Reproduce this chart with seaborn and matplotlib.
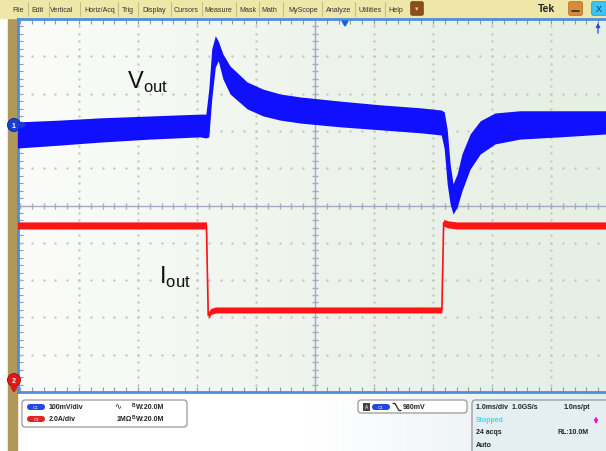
import numpy as np
import matplotlib.pyplot as plt
import seaborn as sns
from matplotlib.colors import LinearSegmentedColormap
from matplotlib.patches import Rectangle, FancyBboxPatch, Circle, Polygon

W, H = 606, 452

# ch1 = Vout, 100 mV/div; envelope of the noisy trace in mV about the ch1 marker
t_v = [-5.05, -4.32, -3.64, -2.80, -1.95, -1.85, -1.80, -1.75, -1.69, -1.64, -1.56,
       -1.44, -1.15, -0.88, -0.59, -0.25, 0.42, 1.10, 1.78, 2.14, 2.19, 2.24, 2.29,
       2.34, 2.41, 2.49, 2.63, 2.80, 3.05, 3.47, 4.15, 4.95]
vout_hi = [8, 13, 19, 24, 29, 29, 96, 204, 239, 225, 190, 158, 115, 96, 83, 75,
           64, 54, 46, 40, 35, -11, -105, -158, -131, -78, -24, 11, 32, 38, 38, 38]
vout_lo = [-62, -54, -46, -38, -32, -35, -32, 70, 155, 172, 123, 83, 43, 24, 13, 5,
           -5, -13, -21, -27, -64, -158, -212, -239, -220, -177, -118, -78, -51, -38, -32, -24]

# ch2 = Iout, 2 A/div; in A about the ch2 marker
t_i = [-5.05, -1.84, -1.81, -1.76, -1.68, 2.15, 2.18, 2.25, 2.40, 4.95]
iout_hi = [8.58, 8.58, 3.75, 3.95, 4.02, 4.02, 8.72, 8.64, 8.58, 8.58]
iout_lo = [8.20, 8.20, 3.40, 3.62, 3.70, 3.70, 8.36, 8.26, 8.20, 8.20]

menu_items = ["File", "Edit", "Vertical", "Horiz/Acq", "Trig", "Display", "Cursors",
              "Measure", "Mask", "Math", "MyScope", "Analyze", "Utilities", "Help"]
ch1_scale, ch2_scale = "100mV/div", "2.0A/div"
bw_text = "20.0M"
trig_level = "980mV"
horiz_info = ["1.0ms/div  1.0GS/s", "1.0ns/pt", "Stopped", "24 acqs", "RL:10.0M", "Auto"]

# screen settings
v_per_div, i_per_div = 100, 2.0
ch1_pos, ch2_pos = 2.16, -4.73      # marker positions in divisions
menu_x = [18, 37, 62, 100, 128, 154, 186, 218, 248, 269, 303, 339, 370, 396]
menu_sep = [28, 49, 80, 118, 138, 171, 202, 236, 259, 283, 322, 355, 385]

sns.set_theme(style="white")
plt.rcParams['font.family'] = ['Liberation Sans', 'DejaVu Sans']
plt.rcParams['mathtext.fontset'] = 'custom'
plt.rcParams['mathtext.rm'] = 'Liberation Sans'

fig = plt.figure(figsize=(W / 100, H / 100), dpi=100)
fig.patch.set_facecolor('white')

# ---- background layer in pixel coordinates
bg = fig.add_axes([0, 0, 1, 1], zorder=0)
bg.set_xlim(0, W)
bg.set_ylim(H, 0)
bg.axis('off')

grad = np.linspace(0, 1, 256).reshape(1, -1)
panel_cmap = LinearSegmentedColormap.from_list('panel', ['#ffffff', '#ffffff', '#e3ecf2'])
bg.imshow(grad, extent=[17, W, H, 394], cmap=panel_cmap, aspect='auto', zorder=0)
bg.add_patch(Rectangle((8, 18), 9, H - 18, color='#b0985a', zorder=1))
bg.add_patch(Rectangle((0, 0), W, 19, color='#efe7a7', zorder=1))
for xs in menu_sep:
    bg.plot([xs, xs], [3, 17], color='#c8bf86', lw=0.8, zorder=2)
for lab, xm in zip(menu_items, menu_x):
    bg.text(xm, 10, lab, ha='center', va='center', fontsize=5.1, color='#333333', zorder=3)
bg.add_patch(FancyBboxPatch((411, 3), 12, 13, boxstyle='round,pad=0.3,rounding_size=1.5',
                            fc='#8a4f1c', ec='#6a3a12', lw=0.5, zorder=3))
bg.text(417, 9.5, '\u25BE', ha='center', va='center', fontsize=5, color='#f0d080', zorder=4)
bg.text(546, 9.5, 'Tek', ha='center', va='center', fontsize=7.5, weight='bold', color='#222222', zorder=3)
bg.add_patch(FancyBboxPatch((569, 3), 13, 13, boxstyle='round,pad=0.3,rounding_size=1.5',
                            fc='#d98a3a', ec='#a8601e', lw=0.5, zorder=3))
bg.plot([572, 579], [12, 12], color='#3a2a10', lw=1.2, zorder=4)
bg.add_patch(FancyBboxPatch((592, 3), 14, 13, boxstyle='round,pad=0.3,rounding_size=1.5',
                            fc='#39c6f2', ec='#1a90c0', lw=0.5, zorder=3))
bg.text(599, 10, 'X', ha='center', va='center', fontsize=6.5, color='#10306a', zorder=4)

# bottom status boxes
bg.add_patch(FancyBboxPatch((22, 401), 165, 27, boxstyle='round,pad=0,rounding_size=3',
                            fc='white', ec='#8c8c8c', lw=0.8, zorder=2))
bg.add_patch(FancyBboxPatch((358, 401), 109, 13, boxstyle='round,pad=0,rounding_size=3',
                            fc='white', ec='#8c8c8c', lw=0.8, zorder=2))
bg.add_patch(FancyBboxPatch((472, 401), 150, 60, boxstyle='round,pad=0,rounding_size=3',
                            fc='#e4eef3', ec='#8c8c8c', lw=0.8, zorder=2))

def pill(x, y, color, label):
    bg.add_patch(FancyBboxPatch((x, y - 3), 18, 6, boxstyle='round,pad=0,rounding_size=3',
                                fc=color, ec='none', zorder=3))
    bg.text(x + 9, y, label, ha='center', va='center', fontsize=3.2, color='white', zorder=4)

txt = dict(fontsize=5, weight='bold', color='#222222', va='center', zorder=4)
pill(27, 408, '#2446e6', 'C1')
pill(27, 420, '#e42424', 'C2')
bg.text(49, 408, ch1_scale, **txt)
bg.text(49, 420, ch2_scale, **txt)
bg.text(118, 408, '\u223F', ha='center', va='center', fontsize=6, color='#222222', zorder=4)
bg.text(117, 420, '1M\u03A9', **txt)
for yy in (408, 420):
    bg.text(132, yy - 2, 'B', fontsize=3.5, weight='bold', color='#222222', va='center', zorder=4)
    bg.text(136, yy, 'W:' + bw_text, **txt)
bg.add_patch(Rectangle((363, 404), 7, 7.5, fc='#444444', ec='none', zorder=3))
bg.text(366.5, 408, 'A', ha='center', va='center', fontsize=3.5, color='white', zorder=4)
pill(372, 408, '#2446e6', 'C1')
bg.plot([393, 395, 399, 401], [404.5, 404.5, 411.5, 411.5], color='#222222', lw=0.9, zorder=4)
bg.text(403, 408, trig_level, **txt)
bg.text(476, 408, horiz_info[0], **txt)
bg.text(564, 408, horiz_info[1], **txt)
bg.text(476, 421, horiz_info[2], fontsize=5, weight='bold', color='#33e0f0', va='center', zorder=4)
bg.text(476, 433, horiz_info[3], **txt)
bg.text(558, 433, horiz_info[4], **txt)
bg.text(476, 446, horiz_info[5], **txt)
bg.annotate('', xy=(596, 428), xytext=(596, 416),
            arrowprops=dict(arrowstyle='-|>', color='#ff10c8', lw=1.2, mutation_scale=5), zorder=4)

# ---- graticule axes, in divisions (time axis in ms)
ax = fig.add_axes([18 / W, 1 - 393 / H, 1 - 18 / W, 373 / H], zorder=1)
xlim, ylim = (-5.034, 4.932), (-5.0, 5.0)
scr_cmap = LinearSegmentedColormap.from_list('scr', ['#fbfcf9', '#eef4ec', '#e6efe4'])
ax.imshow(grad, extent=[*xlim, *ylim], cmap=scr_cmap, aspect='auto', zorder=0)
ax.set_xlim(*xlim)
ax.set_ylim(*ylim)

minor_x = np.arange(-5, 5.0, 0.2)
minor_y = np.arange(-5, 5.01, 0.2)
for gx in range(-4, 5):
    if gx != 0:
        ax.plot(np.full_like(minor_y, gx), minor_y, ls='none', marker='s', ms=0.7,
                color='#c4c8c4', zorder=1)
for gy in range(-4, 5):
    if gy != 0:
        ax.plot(minor_x, np.full_like(minor_x, gy), ls='none', marker='s', ms=0.7,
                color='#c4c8c4', zorder=1)
ax.axvline(0, color='#a3abc4', lw=1.0, zorder=1)
ax.axhline(0, color='#a3abc4', lw=1.0, zorder=1)
ax.plot(np.zeros_like(minor_y), minor_y, ls='none', marker='_', ms=4, mew=1, color='#a3abc4', zorder=1)
ax.plot(minor_x, np.zeros_like(minor_x), ls='none', marker='|', ms=4, mew=1, color='#a3abc4', zorder=1)

ax.set_xticks(minor_x)
ax.set_yticks(minor_y)
ax.tick_params(axis='both', direction='in', length=3.5, width=0.8, color='#8a98bc',
               top=True, bottom=True, left=True, right=False,
               labelbottom=False, labelleft=False)
for side in ('left', 'top', 'bottom'):
    ax.spines[side].set_color('#4d8fdc')
    ax.spines[side].set_linewidth(2)
ax.spines['right'].set_visible(False)

# ---- traces, each on its own vertical scale
axi = ax.twinx()
axi.set_ylim((ylim[0] - ch2_pos) * i_per_div, (ylim[1] - ch2_pos) * i_per_div)
axi.axis('off')
axi.set_zorder(2)
axi.fill_between(t_i, iout_lo, iout_hi, color='#ff1414', lw=0)
i_mid = (np.array(iout_hi) + np.array(iout_lo)) / 2
sns.lineplot(x=t_i, y=i_mid, ax=axi, color='#ff1414', lw=1.2, estimator=None, sort=False)

axv = ax.twinx()
axv.set_ylim((ylim[0] - ch1_pos) * v_per_div, (ylim[1] - ch1_pos) * v_per_div)
axv.axis('off')
axv.set_zorder(3)
axv.fill_between(t_v, vout_lo, vout_hi, color='#1010ff', lw=0)
v_mid = (np.array(vout_hi) + np.array(vout_lo)) / 2
sns.lineplot(x=t_v, y=v_mid, ax=axv, color='#1010ff', lw=1.0, estimator=None, sort=False)

# ---- foreground markers and labels in pixel coordinates
fg = fig.add_axes([0, 0, 1, 1], zorder=4)
fg.set_xlim(0, W)
fg.set_ylim(H, 0)
fg.axis('off')
fg.patch.set_visible(False)
fg.add_patch(Polygon([[342, 22], [348, 22], [345, 27]], color='#1a5fe0'))
fg.annotate('', xy=(598, 21), xytext=(598, 37),
            arrowprops=dict(arrowstyle='-|>', color='#2a4ae8', lw=0.9, mutation_scale=6))
fg.add_patch(Circle((14, 126), 6.5, fc='#1a3fd8', ec='#0a2090', lw=0.6))
fg.text(14, 126.5, '1', ha='center', va='center', fontsize=5, weight='bold', color='white')
fg.add_patch(Polygon([[21, 123], [21, 129], [25, 126]], color='#1a3fd8'))
fg.add_patch(Circle((14, 381), 6.5, fc='#e41818', ec='#a00a0a', lw=0.6))
fg.text(14, 381.5, '2', ha='center', va='center', fontsize=5, weight='bold', color='white')
fg.add_patch(Polygon([[11, 388], [17, 388], [14, 393]], color='#e41818'))

fig.text(127 / W, 1 - 89 / H, r'V$_{\mathrm{out}}$', fontsize=17, color='#111111', va='baseline')
fig.text(159 / W, 1 - 284 / H, r'I$_{\mathrm{out}}$', fontsize=17, color='#111111', va='baseline')

fig.savefig('out.png', dpi=100)
